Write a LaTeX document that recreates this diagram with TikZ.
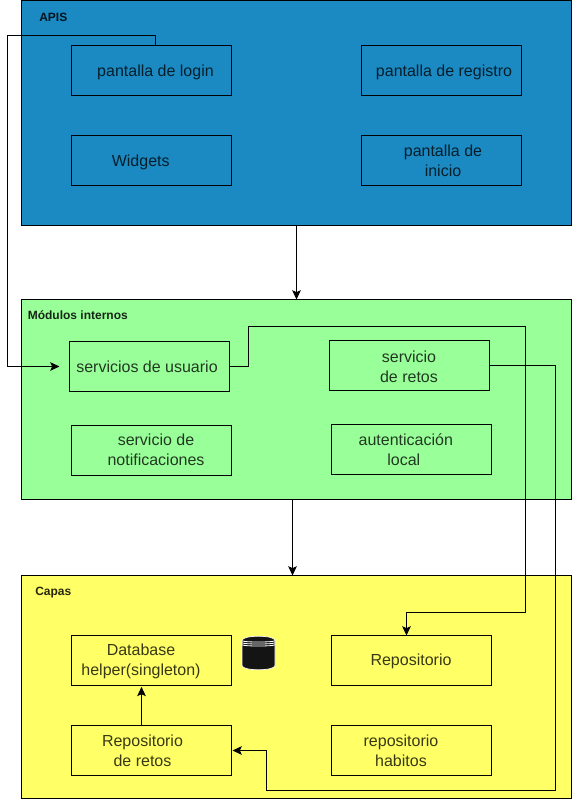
\documentclass[tikz,border=0pt]{standalone}
\usepackage{fontspec}
\setmainfont{Liberation Sans}
\usetikzlibrary{arrows.meta,calc}
\definecolor{apiblue}{HTML}{1B8AC3}
\definecolor{modgreen}{HTML}{99FF99}
\definecolor{capyellow}{HTML}{FFFF66}
\definecolor{dbblack}{HTML}{141414}
\tikzset{
  x=0.75pt,y=-0.75pt,
  panel/.style={draw=black,line width=0.75pt,minimum width=412.5pt,inner sep=0pt,outer sep=0pt},
  boxnode/.style={draw=black,line width=0.75pt,minimum width=120pt,minimum height=37.5pt,inner sep=0pt,outer sep=0pt},
  txt/.style={font=\fontsize{12}{15}\selectfont,text=black,text opacity=0.78,align=center,inner sep=0pt},
  ttl/.style={font=\fontsize{9}{11}\selectfont\bfseries,text=black,text opacity=0.85,anchor=west,inner sep=0pt},
  conn/.style={draw=black,line width=0.75pt},
  arr/.style={conn,-{Stealth[length=7pt,width=6.5pt,inset=1.5pt]}}
}
\begin{document}
\begin{tikzpicture}
\useasboundingbox (0,0) rectangle (572,800);
% panels
\node[panel,fill=apiblue,minimum height=168.75pt] (apis) at (296.5,113) {};
\node[panel,fill=modgreen,minimum height=150pt] (mods) at (296.5,399.5) {};
\node[panel,fill=capyellow,minimum height=167.25pt] (capas) at (296.5,687) {};
\node[ttl] (tapis) at (39,17) {APIS};
\node[ttl] (tmods) at (27.5,315.5) {Módulos internos};
\node[ttl] (tcapas) at (35,592.8) {Capas};
% boxes
\node[boxnode] (login) at (151.5,70.5) {};
\node[boxnode] (registro) at (441.5,70.5) {};
\node[boxnode] (widgets) at (151.5,160.5) {};
\node[boxnode] (inicio) at (441.5,160.5) {};
\node[boxnode] (usuario) at (149.5,366.5) {};
\node[boxnode] (sretos) at (409.5,365.5) {};
\node[boxnode] (notif) at (151.5,450.5) {};
\node[boxnode] (auten) at (411.5,449.5) {};
\node[boxnode] (dbh) at (151.5,660.5) {};
\node[boxnode] (repo) at (411.5,660.5) {};
\node[boxnode] (rretos) at (151.5,750.5) {};
\node[boxnode] (rhab) at (411.5,750.5) {};
% labels
\node[txt] (l1) at (155.5,72) {pantalla de login};
\node[txt] (l2) at (444,72) {pantalla de registro};
\node[txt] (l3) at (140.7,162) {Widgets};
\node[txt] (l4) at (443,160.5) {pantalla de\\inicio};
\node[txt] (l5) at (147,366.5) {servicios de usuario};
\node[txt] (l6) at (409,366.8) {servicio\\de retos};
\node[txt] (l7) at (156,450) {servicio de\\notificaciones};
\node[txt] (l8) at (405.8,449.5) {autenticación\\local\hspace*{3pt}};
\node[txt] (l9) at (141,661) {Database\\helper(singleton)};
\node[txt] (l10) at (411,661.5) {Repositorio};
\node[txt] (l11) at (142.5,750.5) {Repositorio\\de retos};
\node[txt] (l12) at (401,750.5) {repositorio\\habitos};
% database icon
\path[fill=dbblack,draw=white,line width=0.5pt]
  (242,640.5) .. controls (242,634.8) and (275,634.8) .. (275,640.5)
  -- (275,665.5) .. controls (275,671.2) and (242,671.2) .. (242,665.5) -- cycle;
\foreach \yy in {640.8,642.8,644.8}
  \draw[white,line width=0.6pt] (242,\yy) .. controls (244,\yy+1.6) and (273,\yy+1.6) .. (275,\yy);
% connectors
\draw[arr] (apis.south) -- (mods.north);
\draw[arr] ([xshift=-3pt]mods.south) -- ([xshift=-3pt]capas.north);
\coordinate (loginup) at ([xshift=3pt]login.north);
\coordinate (usuin) at ([xshift=-7.5pt]usuario.west);
\draw[arr] (loginup) -- ++(0,-10) -| (7.5,366.5) -- (usuin);
\draw[arr] (usuario.east) -- ++(19,0) |- (525.5,326.5) -- (525.5,612.5) -| ([xshift=-3.75pt]repo.north);
\coordinate (rrin) at ([xshift=0.75pt]rretos.east);
\draw[arr] (sretos.east) -| (555.5,790.5) -| (266.5,750.5) -- (rrin);
\draw[arr] ([xshift=-7.5pt]rretos.north) -- ([xshift=-7.5pt,yshift=-1pt]dbh.south);
\end{tikzpicture}
\end{document}
